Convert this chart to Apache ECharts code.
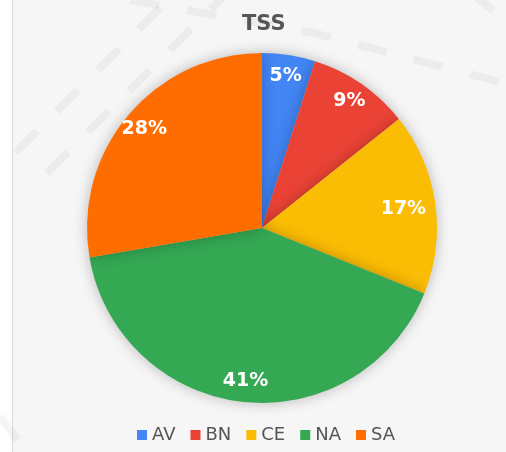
<!DOCTYPE html>
<html>
<head>
<meta charset="utf-8">
<script src="https://cdn.jsdelivr.net/npm/echarts@6/dist/echarts.min.js"></script>
<style>
  html, body { margin: 0; padding: 0; background: #fff; }
  #chart { width: 506px; height: 452px; }
</style>
</head>
<body>
<div id="chart"></div>
<script>
// slice data, clockwise from 12 o'clock
const categories = ['AV', 'BN', 'CE', 'NA', 'SA'];
const values = [4.9, 9.4, 16.8, 41.2, 27.7];
const colors = ['#4285f4', '#ea4335', '#fbbc04', '#34a853', '#ff6d01'];

const chart = echarts.init(document.getElementById('chart'));

const dash = { stroke: 'rgba(0,0,0,0.04)', lineWidth: 8, lineDash: [30, 28], lineCap: 'butt', fill: null };

chart.setOption({
  backgroundColor: '#fff',
  animation: false,
  graphic: [
    { type: 'rect', z: -10, silent: true, shape: { x: 12, y: 0, width: 494, height: 452 }, style: { fill: '#f6f6f6' } },
    { type: 'line', z: -9, silent: true, shape: { x1: 12.5, y1: 0, x2: 12.5, y2: 452 }, style: { stroke: '#dadada', lineWidth: 1 } },
    // faint dashed watermark strokes behind the chart
    { type: 'polyline', z: -8, silent: true, shape: { points: [[130, 0], [310, 32], [500, 82]] }, style: dash },
    { type: 'line', z: -8, silent: true, shape: { x1: 160, y1: 8, x2: -10, y2: 178 }, style: dash },
    { type: 'line', z: -8, silent: true, shape: { x1: 232, y1: -12, x2: 40, y2: 180 }, style: dash },
    { type: 'line', z: -8, silent: true, shape: { x1: 470, y1: -8, x2: 500, y2: 16 }, style: dash },
    { type: 'line', z: -8, silent: true, shape: { x1: 18, y1: 440, x2: -4, y2: 412 }, style: dash }
  ],
  title: {
    text: 'TSS',
    left: 237,
    top: 9,
    textStyle: { fontFamily: 'DejaVu Sans', fontSize: 21, fontWeight: 'bold', color: '#555' }
  },
  legend: {
    data: categories,
    left: 132,
    top: 421,
    icon: 'rect',
    itemWidth: 10,
    itemHeight: 10,
    itemGap: 15,
    textStyle: { fontFamily: 'DejaVu Sans', fontSize: 18, color: '#555' }
  },
  series: [
    {
      type: 'pie',
      center: [262, 228],
      radius: [0, 175],
      startAngle: 90,
      clockwise: true,
      label: { show: false },
      labelLine: { show: false },
      emphasis: { disabled: true },
      itemStyle: { borderWidth: 0, shadowBlur: 14, shadowColor: 'rgba(0,0,0,0.25)' },
      data: categories.map((c, i) => ({ name: c, value: values[i], itemStyle: { color: colors[i] } }))
    },
    {
      // transparent ring that only carries the percentage labels
      type: 'pie',
      center: [262, 228],
      radius: [127, 175],
      startAngle: 90,
      clockwise: true,
      silent: true,
      legendHoverLink: false,
      percentPrecision: 0,
      itemStyle: { color: 'transparent', borderWidth: 0 },
      label: {
        show: true,
        position: 'inside',
        formatter: '{d}%',
        fontFamily: 'DejaVu Sans',
        fontSize: 19,
        fontWeight: 'bold',
        color: '#fff'
      },
      labelLine: { show: false },
      data: categories.map((c, i) => ({
        name: c,
        value: values[i],
        itemStyle: { color: 'transparent' },
        label: c === 'CE' ? { offset: [-11, 3] } : undefined
      }))
    }
  ]
});
</script>
</body>
</html>
